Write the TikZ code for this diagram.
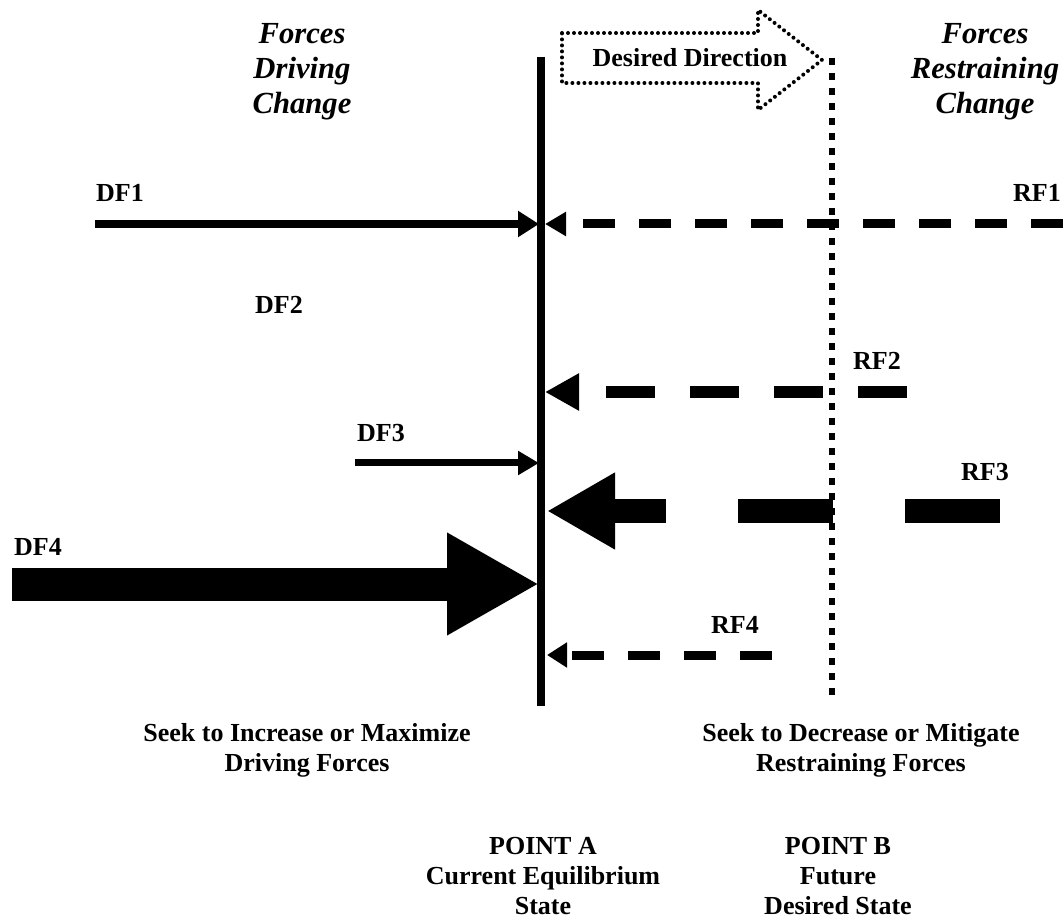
\documentclass[tikz,border=0pt]{standalone}
\usepackage{fontspec}
\setmainfont{Liberation Serif}
\usetikzlibrary{arrows.meta}
\begin{document}
\begin{tikzpicture}[x=0.75pt,y=-0.75pt,every node/.style={inner sep=0pt,font=\bfseries\fontsize{19.5}{22.5}\selectfont},heading/.style={align=center,font=\bfseries\itshape\fontsize{23}{26.25}\selectfont},caption/.style={align=center},force/.style={line cap=butt},restrain/.style={force,dash pattern=on 24pt off 18pt}]
\useasboundingbox (0,0) rectangle (1064,923);
% points A and B
\coordinate (A1) at (541,57);
\coordinate (A2) at (541,706);
\coordinate (B1) at (832,58);
\coordinate (B2) at (832,700);
% headings
\node[heading] at (302,72) (hd) {Forces\\Driving\\Change};
\node[heading] at (985,72) (hr) {Forces\\Restraining\\Change};
\node at (690,58) (dir) {Desired Direction};
% force labels
\node at (120,193) (DF1) {DF1};
\node at (279,305) (DF2) {DF2};
\node at (381,433) (DF3) {DF3};
\node at (38,547) (DF4) {DF4};
\node at (1037,193) (RF1) {RF1};
\node at (877,361) (RF2) {RF2};
\node at (985,472) (RF3) {RF3};
\node at (735,625) (RF4) {RF4};
% ends of the forces
\coordinate (d1) at (95,224);   \coordinate (a1) at (539,224);
\coordinate (d3) at (355,463);  \coordinate (a3) at (539,463);
\coordinate (d4) at (12,584);   \coordinate (a4) at (539,584);
\coordinate (r1) at (1063,224); \coordinate (b1) at (545,224);
\coordinate (r2) at (907,392);  \coordinate (b2) at (545,392);
\coordinate (r3) at (1000,511); \coordinate (b3) at (547,511);
\coordinate (r4) at (772,655);  \coordinate (b4) at (547,655);
% captions
\node[caption] at (307,750) (cl) {Seek to Increase or Maximize\\Driving Forces};
\node[caption] at (861,750) (cr) {Seek to Decrease or Mitigate\\Restraining Forces};
\node[caption] at (543,876) (pa) {POINT A\\Current Equilibrium\\State};
\node[caption] at (838,876) (pb) {POINT B\\Future\\Desired State};

					\draw[line width=6pt] (A1) -- (A2);
					\draw[line width=4.8pt,dash pattern=on 5.4pt off 5.85pt] (B1) -- (B2);
					\draw[line width=3pt,line cap=round,dash pattern=on 0pt off 4.5pt] (562,33) -- (758,33) -- (758,10) -- (822,60) -- (758,110) -- (758,83) -- (562,83) -- cycle;

					\draw[force,line width=6pt,-{Triangle[length=15.75pt,width=18.75pt]}] (d1) -- (a1);
					\draw[force,line width=5.25pt,-{Triangle[length=15.75pt,width=17.25pt]}] (d3) -- (a3);
					\draw[force,line width=24.75pt,-{Triangle[length=69pt,width=72pt]}] (d4) -- (a4);

					\draw[restrain,line width=6.75pt,-{Triangle[length=15.75pt,width=17.25pt]}] (r1) -- (b1);
					\draw[restrain,line width=9pt,dash pattern=on 36.75pt off 26.25pt,-{Triangle[length=25.5pt,width=26.25pt]}] (r2) -- (b2);
					\draw[restrain,line width=18pt,dash pattern=on 71.25pt off 54pt,-{Triangle[length=51pt,width=54pt]}] (r3) -- (b3);
					\draw[restrain,line width=6.75pt,-{Triangle[length=15pt,width=18pt]}] (r4) -- (b4);
\end{tikzpicture}
\end{document}
